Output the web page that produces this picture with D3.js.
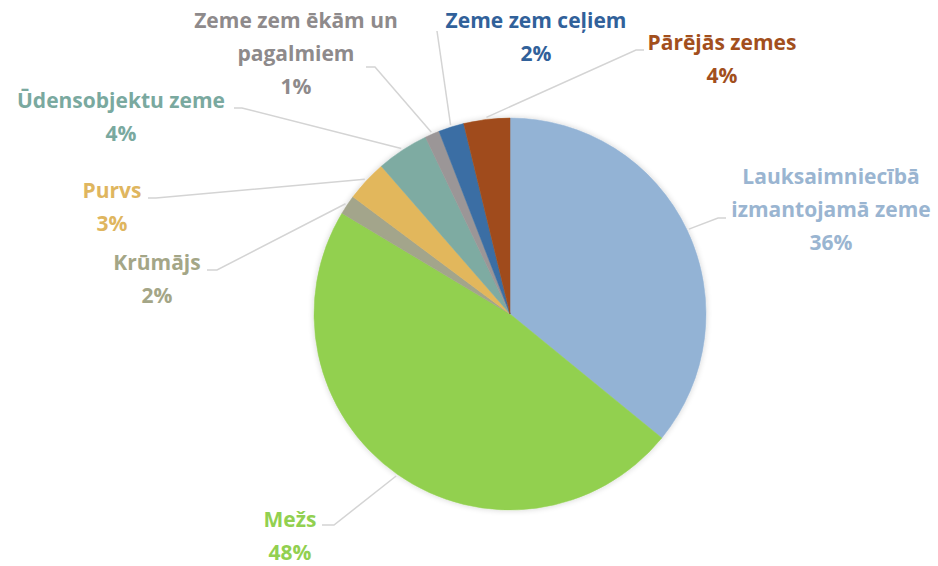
<!DOCTYPE html>
<html>
<head>
<meta charset="utf-8">
<script src="https://cdn.jsdelivr.net/npm/d3@7"></script>
<style>
  body { margin: 0; background: #fff; }
  svg { display: block; }
</style>
</head>
<body>
<svg id="main"></svg>
<script>
// data
const categories = ['Lauksaimniecībā izmantojamā zeme', 'Mežs', 'Krūmājs', 'Purvs',
  'Ūdensobjektu zeme', 'Zeme zem ēkām un pagalmiem', 'Zeme zem ceļiem', 'Pārējās zemes'];
const values = [35.9, 47.7, 1.6, 3.4, 4.3, 1.2, 2.1, 3.8];
const labelLines = [
  ['Lauksaimniecībā', 'izmantojamā zeme'],
  ['Mežs'],
  ['Krūmājs'],
  ['Purvs'],
  ['Ūdensobjektu zeme'],
  ['Zeme zem ēkām un', 'pagalmiem'],
  ['Zeme zem ceļiem'],
  ['Pārējās zemes']
];

// styles / layout
const sliceColors = ['#93b3d5', '#92d050', '#a3a58b', '#e2b75c', '#7eaba2', '#9b9697', '#3a6ea4', '#a04c1b'];
const textColors = ['#9ab5d1', '#92d050', '#a4a687', '#dfb65f', '#7aa99f', '#8e8a8b', '#31619a', '#a24f1d'];
// label centre x, first baseline y, leader start [x, y], elbow x
const labelLayout = [
  {x: 831, y: 184, sx: 726, sy: 218, ex: 718},
  {x: 290, y: 527, sx: 322, sy: 525, ex: 334},
  {x: 157, y: 270, sx: 207, sy: 270, ex: 217},
  {x: 112, y: 198, sx: 148, sy: 198, ex: 156},
  {x: 121, y: 108, sx: 234, sy: 108, ex: 242},
  {x: 296, y: 28, sx: 366, sy: 67, ex: 375},
  {x: 536, y: 28, sx: 437, sy: 31, ex: 437},
  {x: 722, y: 50, sx: 644, sy: 50, ex: 636}
];

const width = 938, height = 566;
const cx = 510, cy = 314, radius = 196;
const lineH = 33;

const svg = d3.select('#main')
  .attr('width', width)
  .attr('height', height);

const defs = svg.append('defs');
const shadow = defs.append('filter')
  .attr('id', 'shadow')
  .attr('x', '-10%').attr('y', '-10%')
  .attr('width', '120%').attr('height', '120%');
shadow.append('feGaussianBlur')
  .attr('in', 'SourceAlpha')
  .attr('stdDeviation', 3);
shadow.append('feComponentTransfer')
  .append('feFuncA').attr('type', 'linear').attr('slope', 0.18);
const merge = shadow.append('feMerge');
merge.append('feMergeNode');
merge.append('feMergeNode').attr('in', 'SourceGraphic');

const data = categories.map((c, i) => ({name: c, value: values[i], i: i}));

const pie = d3.pie()
  .sort(null)
  .value(d => d.value);

const arc = d3.arc()
  .innerRadius(0)
  .outerRadius(radius);

const edge = d3.arc()
  .innerRadius(radius + 2)
  .outerRadius(radius + 2);

const arcs = pie(data);

const g = svg.append('g')
  .attr('transform', `translate(${cx},${cy})`);

g.append('g')
  .attr('filter', 'url(#shadow)')
  .selectAll('path')
  .data(arcs)
  .enter()
  .append('path')
  .attr('d', arc)
  .attr('fill', d => sliceColors[d.data.i])
  .attr('stroke', d => sliceColors[d.data.i])
  .attr('stroke-width', 0.5);

// leader lines
svg.append('g')
  .selectAll('polyline')
  .data(arcs)
  .enter()
  .append('polyline')
  .attr('fill', 'none')
  .attr('stroke', '#d4d4d4')
  .attr('stroke-width', 1.5)
  .attr('points', d => {
    const L = labelLayout[d.data.i];
    const p = edge.centroid(d);
    return [[L.sx, L.sy], [L.ex, L.sy], [cx + p[0], cy + p[1]]].map(q => q.join(',')).join(' ');
  });

// labels
const labels = svg.append('g')
  .selectAll('text')
  .data(arcs)
  .enter()
  .append('text')
  .attr('text-anchor', 'middle')
  .attr('font-family', 'Open Sans')
  .attr('font-weight', 700)
  .attr('font-size', '21px')
  .attr('fill', d => textColors[d.data.i]);

labels.each(function (d) {
  const L = labelLayout[d.data.i];
  const lines = labelLines[d.data.i].concat([Math.round(d.data.value) + '%']);
  d3.select(this).selectAll('tspan')
    .data(lines)
    .enter()
    .append('tspan')
    .attr('x', L.x)
    .attr('y', (t, k) => L.y + k * lineH)
    .text(t => t);
});
</script>
</body>
</html>
